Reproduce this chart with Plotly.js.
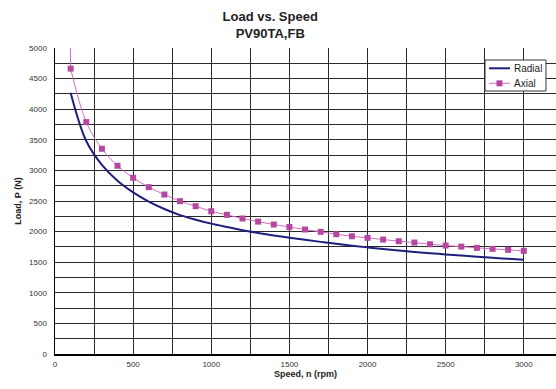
<!DOCTYPE html>
<html>
<head>
<meta charset="utf-8">
<script src="https://cdn.plot.ly/plotly-3.0.1.min.js"></script>
<style>html,body{margin:0;padding:0;background:#fff;}#chart{width:556px;height:389px;}</style>
</head>
<body>
<div id="chart"></div>
<script>
// Radial load curve (no markers)
const radialSpeed = [100, 200, 300, 400, 500, 600, 700, 800, 900, 1000, 1100, 1200, 1300, 1400, 1500, 1600, 1700, 1800, 1900, 2000, 2100, 2200, 2300, 2400, 2500, 2600, 2700, 2800, 2900, 3000];
const radialLoad  = [4270, 3480, 3090, 2830, 2640, 2490, 2370, 2270, 2195, 2130, 2075, 2022, 1978, 1938, 1900, 1865, 1832, 1800, 1770, 1742, 1715, 1690, 1668, 1647, 1627, 1608, 1590, 1572, 1556, 1540];

// Axial load points (square markers)
const axialSpeed = [100, 200, 300, 400, 500, 600, 700, 800, 900, 1000, 1100, 1200, 1300, 1400, 1500, 1600, 1700, 1800, 1900, 2000, 2100, 2200, 2300, 2400, 2500, 2600, 2700, 2800, 2900, 3000];
const axialLoad  = [4663, 3789, 3354, 3076, 2880, 2726, 2606, 2497, 2415, 2333, 2274, 2214, 2163, 2116, 2075, 2034, 1996, 1957, 1924, 1898, 1870, 1843, 1821, 1793, 1772, 1755, 1734, 1718, 1702, 1685];

// Axial line lead-in above the first point (runs off the top of the plot)
const axialLeadSpeed = [97, 100];
const axialLeadLoad  = [5300, 4663];

const xTickVals = [0, 500, 1000, 1500, 2000, 2500, 3000];
const yTickVals = [0, 500, 1000, 1500, 2000, 2500, 3000, 3500, 4000, 4500, 5000];
const seriesNames = ['Radial', 'Axial'];

const navy = '#1f1f7d';
const pinkLine = '#d06ec0';
const pinkMarker = '#b5479f';

const traces = [
  {
    x: radialSpeed, y: radialLoad, name: seriesNames[0], mode: 'lines',
    line: {color: navy, width: 2, shape: 'spline'}
  },
  {
    x: axialLeadSpeed, y: axialLeadLoad, mode: 'lines', showlegend: false, hoverinfo: 'skip',
    line: {color: pinkLine, width: 1}
  },
  {
    x: axialSpeed, y: axialLoad, name: seriesNames[1], mode: 'lines+markers',
    line: {color: pinkLine, width: 1, shape: 'spline'},
    marker: {symbol: 'square', size: 6, color: pinkMarker}
  }
];

// Legend drawn as a compact box (paper coordinates)
const lg = {x0: 0.8583, x1: 0.98, y0: 0.8595, y1: 0.9608, lineX0: 0.8663, lineX1: 0.9082, textX: 0.912, row1: 0.9337, row2: 0.8846};
const mkW = 0.006, mkH = 0.0098, mkX = 0.8872;

const legendShapes = [
  {type: 'rect', xref: 'paper', yref: 'paper', x0: lg.x0, x1: lg.x1, y0: lg.y0, y1: lg.y1,
   line: {color: '#333', width: 1}, fillcolor: '#fff', layer: 'above'},
  {type: 'line', xref: 'paper', yref: 'paper', x0: lg.lineX0, x1: lg.lineX1, y0: lg.row1, y1: lg.row1,
   line: {color: navy, width: 2}, layer: 'above'},
  {type: 'line', xref: 'paper', yref: 'paper', x0: lg.lineX0, x1: lg.lineX1, y0: lg.row2, y1: lg.row2,
   line: {color: pinkLine, width: 1}, layer: 'above'},
  {type: 'rect', xref: 'paper', yref: 'paper', x0: mkX - mkW, x1: mkX + mkW, y0: lg.row2 - mkH, y1: lg.row2 + mkH,
   line: {width: 0}, fillcolor: pinkMarker, layer: 'above'}
];
const legendTexts = [
  {xref: 'paper', yref: 'paper', x: lg.textX, y: lg.row1, xanchor: 'left', yanchor: 'middle', showarrow: false,
   text: seriesNames[0], font: {size: 10, color: '#222'}},
  {xref: 'paper', yref: 'paper', x: lg.textX, y: lg.row2, xanchor: 'left', yanchor: 'middle', showarrow: false,
   text: seriesNames[1], font: {size: 10, color: '#222'}}
];

const axisFont = {family: 'Liberation Sans, Arial, sans-serif', size: 8, color: '#333'};
const layout = {
  width: 556, height: 389,
  margin: {l: 55, r: 0, t: 48, b: 35},
  paper_bgcolor: '#fff', plot_bgcolor: '#fff',
  font: {family: 'Liberation Sans, Arial, sans-serif', color: '#222'},
  title: {
    text: '<b>Load vs. Speed</b><br><b>PV90TA,FB</b>',
    font: {size: 13, color: '#222'},
    x: 0.486, xref: 'container', xanchor: 'center',
    y: 0.946, yref: 'container', yanchor: 'middle'
  },
  xaxis: {
    range: [0, 3206], tickvals: xTickVals, tickfont: axisFont,
    showgrid: true, gridcolor: '#2a2a2a', gridwidth: 1,
    minor: {dtick: 250, showgrid: true, gridcolor: '#2a2a2a', gridwidth: 1, ticks: ''},
    showline: true, linecolor: '#000', linewidth: 1.5,
    zeroline: false, ticks: '', ticklabelstandoff: 2,
    title: {text: '<b>Speed, n (rpm)</b>', font: {size: 9, color: '#222'}, standoff: 0}
  },
  yaxis: {
    range: [0, 5000], tickvals: yTickVals, tickfont: axisFont,
    showgrid: true, gridcolor: '#2a2a2a', gridwidth: 1,
    minor: {dtick: 250, showgrid: true, gridcolor: '#2a2a2a', gridwidth: 1, ticks: ''},
    showline: true, linecolor: '#000', linewidth: 1.5,
    zeroline: false, ticks: '', ticklabelstandoff: 5,
    title: {text: '<b>Load, P (N)</b>', font: {size: 9, color: '#222'}, standoff: 6}
  },
  shapes: legendShapes,
  annotations: legendTexts,
  showlegend: false
};

Plotly.newPlot('chart', traces, layout, {displayModeBar: false, staticPlot: true});
</script>
</body>
</html>
